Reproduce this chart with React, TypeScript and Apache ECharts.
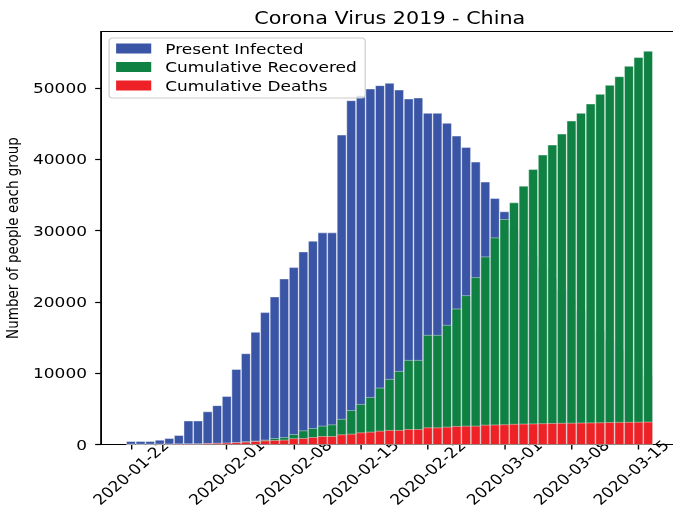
import { useEffect, useRef } from "react";
import * as echarts from "echarts";

// One bar per day, 2020-01-22 .. 2020-03-16
const dates = [
  "2020-01-22", "2020-01-23", "2020-01-24", "2020-01-25", "2020-01-26", "2020-01-27", "2020-01-28",
  "2020-01-29", "2020-01-30", "2020-01-31", "2020-02-01", "2020-02-02", "2020-02-03", "2020-02-04",
  "2020-02-05", "2020-02-06", "2020-02-07", "2020-02-08", "2020-02-09", "2020-02-10", "2020-02-11",
  "2020-02-12", "2020-02-13", "2020-02-14", "2020-02-15", "2020-02-16", "2020-02-17", "2020-02-18",
  "2020-02-19", "2020-02-20", "2020-02-21", "2020-02-22", "2020-02-23", "2020-02-24", "2020-02-25",
  "2020-02-26", "2020-02-27", "2020-02-28", "2020-02-29", "2020-03-01", "2020-03-02", "2020-03-03",
  "2020-03-04", "2020-03-05", "2020-03-06", "2020-03-07", "2020-03-08", "2020-03-09", "2020-03-10",
  "2020-03-11", "2020-03-12", "2020-03-13", "2020-03-14", "2020-03-15", "2020-03-16",
];

const presentInfected = [
  420, 420, 420, 610, 840, 1260, 3300, 3300, 4580, 5450, 6740, 10530, 12730, 15730,
  18490, 20690, 23210, 24800, 27000, 28500, 29670, 29670, 43380, 48200, 48900, 49840,
  50310, 50640, 49700, 48440, 48580, 46430, 46430, 45020, 43240, 41650, 39590, 36790,
  34490, 32620, 30100, 28200, 26400, 24900, 23300, 21700, 20200, 18700, 17300, 15900,
  14500, 13200, 11900, 10800, 9700,
];

const cumulativeRecovered = [
  28, 28, 28, 34, 38, 49, 60, 60, 103, 120, 140, 220, 370, 470, 610, 840, 980, 1400,
  1920, 2250, 2570, 2760, 3530, 4770, 5620, 6600, 7910, 9130, 10250, 11790, 11790,
  15300, 15300, 16710, 19000, 20870, 23400, 26300, 28970, 31540, 33880, 36220, 38560,
  40580, 41980, 43520, 45350, 46430, 47740, 49090, 50360, 51570, 53020, 54240, 55130,
];

const cumulativeDeaths = [
  17, 17, 17, 25, 40, 56, 80, 80, 130, 170, 210, 260, 330, 420, 510, 560, 610, 820,
  840, 980, 1120, 1120, 1360, 1450, 1640, 1730, 1870, 1970, 1970, 2100, 2100, 2340,
  2340, 2430, 2530, 2570, 2570, 2710, 2740, 2770, 2830, 2860, 2890, 2920, 2950, 2970,
  2990, 3010, 3030, 3050, 3080, 3100, 3110, 3120, 3140,
];

const tickDates = [
  "2020-01-22", "2020-02-01", "2020-02-08", "2020-02-15",
  "2020-02-22", "2020-03-01", "2020-03-08", "2020-03-15",
];

const yTicks = [0, 10000, 20000, 30000, 40000, 50000];

const FONT = "DejaVu Sans";
const BLUE = "#3a55a5";
const GREEN = "#0f8142";
const RED = "#ee2126";
const BAR_DAYS = 0.93; // bar width, in days

// The figure is laid out on a 575px wide canvas and widened to 673px.
const INNER_W = 575;
const STRETCH = 673 / INNER_W;

export default function App() {
  const ref = useRef<HTMLDivElement>(null);

  useEffect(() => {
    document.body.style.margin = "0";
    const chart = echarts.init(ref.current!, null, { renderer: "svg" });

    const tickIdx = tickDates.map((d) => dates.indexOf(d));
    const lastTick = tickIdx[tickIdx.length - 1];
    const toPairs = (arr: number[]) => arr.map((v, i) => [i, v]);
    const black = { color: "#000", width: 1.2 };

    // Each day is a rectangle from 0 up to its value; the three groups overlap.
    const bar = (name: string, values: number[], color: string) => ({
      name,
      type: "custom",
      data: toPairs(values),
      encode: { x: 0, y: 1 },
      clip: true,
      itemStyle: { color },
      renderItem: (_params: any, api: any) => {
        const x = api.value(0);
        const y = api.value(1);
        const base = api.coord([x, 0]);
        const top = api.coord([x, y]);
        const w = api.size([BAR_DAYS, 0])[0];
        return {
          type: "rect",
          shape: { x: base[0] - w / 2, y: top[1], width: w, height: base[1] - top[1] },
          style: { fill: color, stroke: "rgba(255,255,255,0.55)", lineWidth: 0.7 },
        };
      },
    });

    chart.setOption({
      animation: false,
      textStyle: { fontFamily: FONT },
      graphic: [
        {
          type: "text",
          x: 333,
          y: 18,
          style: {
            text: "Corona Virus 2019 - China",
            fontFamily: FONT,
            fontSize: 17.7,
            fill: "#000",
            align: "center",
            verticalAlign: "middle",
          },
        },
      ],
      legend: {
        orient: "vertical",
        left: 93.2,
        top: 38,
        icon: "rect",
        itemWidth: 30,
        itemHeight: 10,
        itemGap: 3.5,
        padding: [3, 7, 5, 6],
        backgroundColor: "rgba(255,255,255,0.8)",
        borderColor: "#cccccc",
        borderWidth: 1,
        borderRadius: 3,
        itemStyle: { borderWidth: 0 },
        textStyle: {
          fontFamily: FONT,
          fontSize: 14.5,
          color: "#000",
          lineHeight: 15,
          padding: [0, 0, 0, 7],
        },
        data: ["Present Infected", "Cumulative Recovered", "Cumulative Deaths"],
      },
      grid: {
        left: 86.3,
        right: -4.8,
        top: 31.5,
        bottom: 72.5,
        outerBoundsMode: "none",
        containLabel: false,
        show: true,
        borderColor: "#000",
        borderWidth: 1.2,
      },
      xAxis: {
        type: "value",
        min: -3.13,
        max: 57.19,
        splitLine: { show: false },
        axisLine: { show: true, onZero: false, lineStyle: black },
        axisTick: { show: true, length: 5, lineStyle: black, customValues: tickIdx },
        axisLabel: {
          customValues: tickIdx,
          // the last date sits at the right edge, so it is nudged left to stay on the page
          formatter: (v: number) => {
            const i = Math.round(v);
            return i === lastTick ? `{edge|${dates[i]}}` : dates[i];
          },
          rich: {
            edge: {
              fontSize: 14.5,
              fontFamily: FONT,
              color: "#000",
              padding: [0, 9, 9, 0],
            },
          },
          rotate: 45,
          align: "center",
          verticalAlign: "middle",
          margin: 28,
          fontSize: 14.5,
          fontFamily: FONT,
          color: "#000",
        },
      },
      yAxis: {
        type: "value",
        min: 0,
        max: 57900,
        name: "Number of people each group",
        nameLocation: "middle",
        nameGap: 64,
        nameTextStyle: { fontSize: 13.5, fontFamily: FONT, color: "#000" },
        splitLine: { show: false },
        axisLine: { show: true, onZero: false, lineStyle: black },
        axisTick: { show: true, length: 5, lineStyle: black, customValues: yTicks },
        axisLabel: {
          customValues: yTicks,
          formatter: (v: number) => String(v),
          margin: 12,
          fontSize: 14.5,
          fontFamily: FONT,
          color: "#000",
        },
      },
      series: [
        bar("Present Infected", presentInfected, BLUE),
        bar("Cumulative Recovered", cumulativeRecovered, GREEN),
        bar("Cumulative Deaths", cumulativeDeaths, RED),
      ],
    });

    return () => chart.dispose();
  }, []);

  return (
    <div
      ref={ref}
      style={{
        position: "fixed",
        left: 0,
        top: 0,
        width: INNER_W,
        height: 517,
        transform: `scaleX(${STRETCH})`,
        transformOrigin: "0 0",
      }}
    />
  );
}
